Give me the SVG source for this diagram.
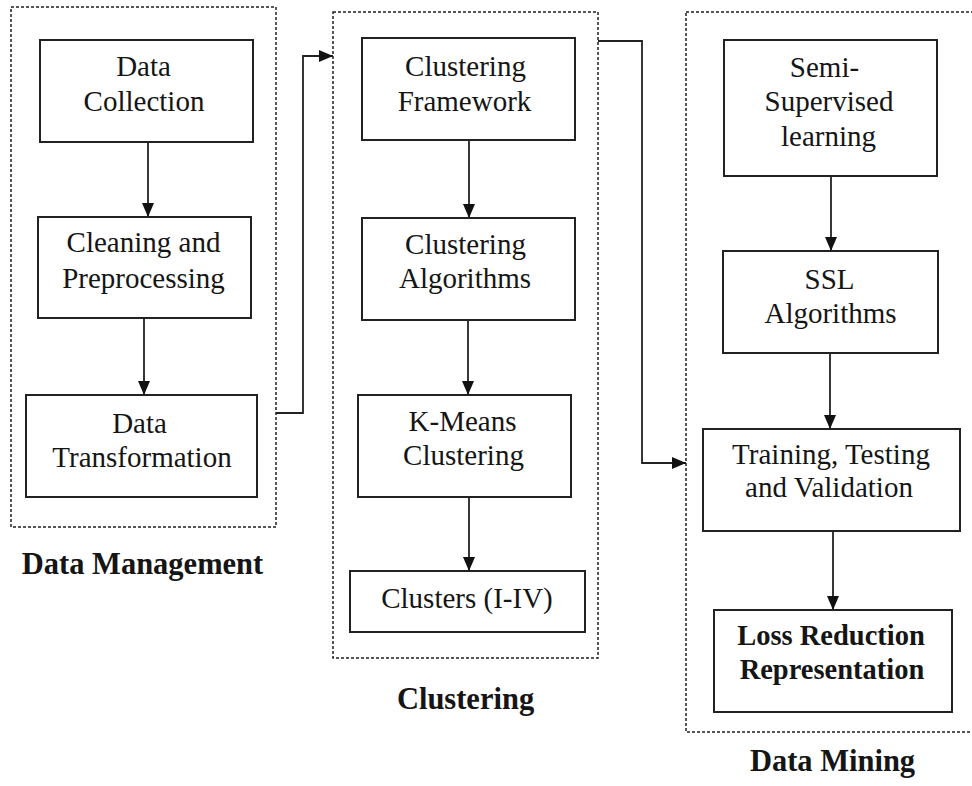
<svg xmlns="http://www.w3.org/2000/svg" width="972" height="786" viewBox="0 0 972 786">
  <style>
    .group { fill: none; stroke: #1f1f1f; stroke-width: 1.5; stroke-dasharray: 3 2; }
    .box { fill: #ffffff; stroke: #222222; stroke-width: 2; }
    .link { fill: none; stroke: #222222; stroke-width: 1.8; }
    text { font-family: "Liberation Serif", "Times New Roman", serif; fill: #151515; text-anchor: middle; }
    .t { font-size: 29px; }
    .tb { font-size: 28.5px; font-weight: bold; }
    .cap { font-size: 30.5px; font-weight: bold; }
  </style>
  <defs>
    <marker id="arrow" viewBox="0 0 14 12" markerWidth="14" markerHeight="12" refX="14" refY="6" orient="auto" markerUnits="userSpaceOnUse">
      <path d="M0,0 L14,6 L0,12 z" fill="#111111"/>
    </marker>
  </defs>
  <rect width="972" height="786" fill="#ffffff"/>

  <!-- stage frames -->
  <g id="stage-data-management">
    <rect class="group" x="11" y="7" width="265" height="520"/>
    <text class="cap" x="142.5" y="574">Data Management</text>
  </g>
  <g id="stage-clustering">
    <rect class="group" x="333" y="12" width="265" height="646"/>
    <text class="cap" x="465.5" y="709">Clustering</text>
  </g>
  <g id="stage-data-mining">
    <rect class="group" x="686" y="12" width="292" height="720"/>
    <text class="cap" x="832.5" y="771">Data Mining</text>
  </g>

  <!-- connectors -->
  <g id="connectors">
    <line class="link" x1="148" y1="142" x2="148" y2="217" marker-end="url(#arrow)"/>
    <line class="link" x1="144" y1="318" x2="144" y2="395" marker-end="url(#arrow)"/>
    <path class="link" d="M276,413 H303 V56 H333" marker-end="url(#arrow)"/>
    <line class="link" x1="469" y1="140" x2="469" y2="218" marker-end="url(#arrow)"/>
    <line class="link" x1="468" y1="320" x2="468" y2="395" marker-end="url(#arrow)"/>
    <line class="link" x1="469" y1="497" x2="469" y2="571" marker-end="url(#arrow)"/>
    <path class="link" d="M598,41 H642 V463 H686" marker-end="url(#arrow)"/>
    <line class="link" x1="831" y1="176" x2="831" y2="251" marker-end="url(#arrow)"/>
    <line class="link" x1="830" y1="353" x2="830" y2="429" marker-end="url(#arrow)"/>
    <line class="link" x1="833" y1="531" x2="833" y2="610" marker-end="url(#arrow)"/>
  </g>

  <!-- data management -->
  <g id="data-collection">
    <rect class="box" x="40" y="40" width="213" height="102"/>
    <text class="t" x="143.5" y="76">Data</text>
    <text class="t" x="144" y="111">Collection</text>
  </g>
  <g id="cleaning-preprocessing">
    <rect class="box" x="38" y="217" width="213" height="101"/>
    <text class="t" x="143.5" y="252">Cleaning and</text>
    <text class="t" x="143.5" y="288">Preprocessing</text>
  </g>
  <g id="data-transformation">
    <rect class="box" x="26" y="395" width="231" height="102"/>
    <text class="t" x="139.5" y="433">Data</text>
    <text class="t" x="142" y="467">Transformation</text>
  </g>

  <!-- clustering -->
  <g id="clustering-framework">
    <rect class="box" x="362" y="38" width="213" height="102"/>
    <text class="t" x="465.5" y="76">Clustering</text>
    <text class="t" x="464.5" y="111">Framework</text>
  </g>
  <g id="clustering-algorithms">
    <rect class="box" x="362" y="218" width="213" height="102"/>
    <text class="t" x="465.5" y="254">Clustering</text>
    <text class="t" x="465" y="288">Algorithms</text>
  </g>
  <g id="k-means-clustering">
    <rect class="box" x="358" y="395" width="213" height="102"/>
    <text class="t" x="462.5" y="431">K-Means</text>
    <text class="t" x="463.5" y="465">Clustering</text>
  </g>
  <g id="clusters">
    <rect class="box" x="350" y="571" width="235" height="61"/>
    <text class="t" x="467" y="608">Clusters (I-IV)</text>
  </g>

  <!-- data mining -->
  <g id="semi-supervised-learning">
    <rect class="box" x="724" y="40" width="213" height="136"/>
    <text class="t" x="824.5" y="77">Semi-</text>
    <text class="t" x="829" y="111">Supervised</text>
    <text class="t" x="828.5" y="146">learning</text>
  </g>
  <g id="ssl-algorithms">
    <rect class="box" x="723" y="251" width="215" height="102"/>
    <text class="t" x="829.5" y="289">SSL</text>
    <text class="t" x="830.5" y="323">Algorithms</text>
  </g>
  <g id="training-testing-validation">
    <rect class="box" x="703" y="429" width="257" height="102"/>
    <text class="t" x="831" y="464">Training, Testing</text>
    <text class="t" x="829" y="497">and Validation</text>
  </g>
  <g id="loss-reduction-representation">
    <rect class="box" x="714" y="610" width="238" height="102"/>
    <text class="tb" x="831" y="645">Loss Reduction</text>
    <text class="tb" x="832" y="679">Representation</text>
  </g>
</svg>
